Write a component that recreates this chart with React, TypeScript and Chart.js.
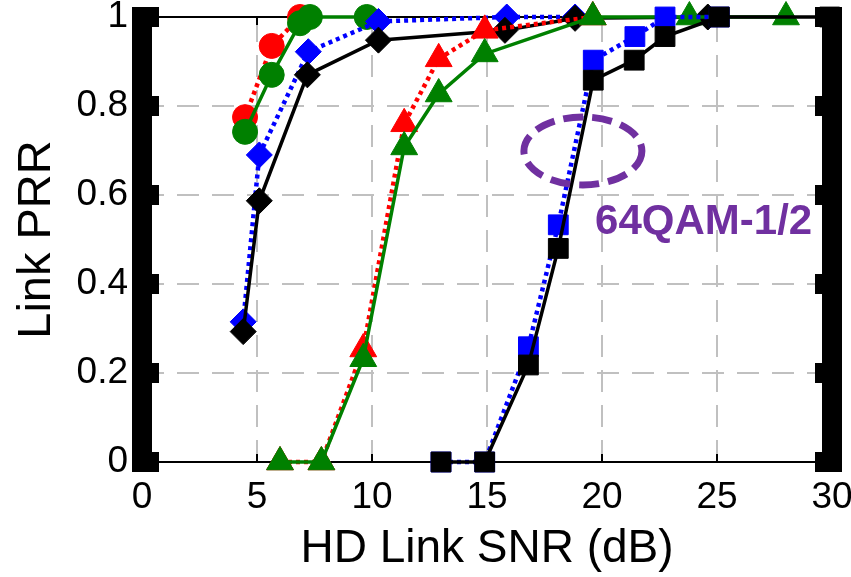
import { useEffect, useRef } from 'react';
import { Chart, registerables } from 'chart.js';

Chart.register(...registerables);

// ---- data ----
const xTicks = [0, 5, 10, 15, 20, 25, 30];
const yTicks = [0, 0.2, 0.4, 0.6, 0.8, 1];
const yTickLabels = ['0', '0.2', '0.4', '0.6', '0.8', '1'];

const redCircleX = [4.48, 5.64, 6.87];
const redCircleY = [0.775, 0.935, 1.0];

const greenCircleX = [4.48, 5.64, 6.87, 7.3, 9.77];
const greenCircleY = [0.742, 0.87, 0.986, 1.0, 1.0];

const blueDiamondX = [4.4, 5.1, 7.23, 10.28, 15.86, 18.83];
const blueDiamondY = [0.315, 0.69, 0.922, 0.99, 1.0, 1.0];

const blackDiamondX = [4.4, 5.1, 7.19, 10.28, 15.78, 18.83, 24.6];
const blackDiamondY = [0.293, 0.587, 0.87, 0.948, 0.97, 0.997, 1.0];

const redTriangleX = [6.0, 7.8, 9.62, 11.4, 12.9, 14.9, 19.6];
const redTriangleY = [0, 0, 0.254, 0.76, 0.906, 0.97, 1.0];

const greenTriangleX = [6.0, 7.8, 9.62, 11.4, 12.9, 14.9, 19.6, 23.8, 28.0];
const greenTriangleY = [0, 0, 0.232, 0.708, 0.827, 0.917, 1.0, 1.0, 1.0];

const blueSquareX = [13.0, 14.9, 16.8, 18.1, 19.62, 21.43, 22.74, 25.1];
const blueSquareY = [0, 0, 0.259, 0.533, 0.903, 0.956, 1.0, 1.0];

const blackSquareX = [13.0, 14.9, 16.8, 18.1, 19.62, 21.4, 22.74, 25.1, 29.9];
const blackSquareY = [0, 0, 0.218, 0.48, 0.858, 0.903, 0.956, 1.0, 1.0];

const annotationText = '64QAM-1/2';
const ellipseCenter = { x: 19.17, y: 0.699 };
const ellipseRadius = { x: 2.565, y: 0.0764 };
const annotationPos = { x: 19.7, y: 0.512 };

const FONT = "'Liberation Sans', Arial, Helvetica, sans-serif";
const PURPLE = '#7030A0';

const pts = (xs: number[], ys: number[]) => xs.map((x, i) => ({ x, y: ys[i] }));

const framePlugin = {
  id: 'framePlugin',
  beforeDatasetsDraw(chart: any) {
    const { ctx, chartArea: a, scales } = chart;
    const x = scales.x;
    const y = scales.y;
    ctx.save();
    // dashed grid
    ctx.strokeStyle = '#c0c0c0';
    ctx.lineWidth = 2;
    ctx.setLineDash([22, 13]);
    xTicks.slice(1, -1).forEach((v) => {
      const px = Math.round(x.getPixelForValue(v));
      ctx.beginPath();
      ctx.moveTo(px, a.bottom);
      ctx.lineTo(px, a.top);
      ctx.stroke();
    });
    yTicks.slice(1, -1).forEach((v) => {
      const py = Math.round(y.getPixelForValue(v));
      ctx.beginPath();
      ctx.moveTo(a.left, py);
      ctx.lineTo(a.right, py);
      ctx.stroke();
    });
    // frame lines
    ctx.setLineDash([]);
    ctx.strokeStyle = '#000';
    ctx.lineWidth = 2;
    ctx.beginPath();
    ctx.moveTo(a.left, a.top);
    ctx.lineTo(a.right, a.top);
    ctx.moveTo(a.left, a.bottom);
    ctx.lineTo(a.right, a.bottom);
    xTicks.slice(1, -1).forEach((v) => {
      const px = Math.round(x.getPixelForValue(v));
      ctx.moveTo(px, a.bottom);
      ctx.lineTo(px, a.bottom - 8);
      ctx.moveTo(px, a.top);
      ctx.lineTo(px, a.top + 8);
    });
    ctx.stroke();
    ctx.restore();
  },
  afterDatasetsDraw(chart: any) {
    const { ctx, chartArea: a, scales } = chart;
    const x = scales.x;
    const y = scales.y;
    ctx.save();
    // thick side bars with tick nubs
    ctx.fillStyle = '#000';
    const half = 10;
    ctx.fillRect(a.left - half, a.top - half, 2 * half, a.bottom - a.top + 2 * half);
    ctx.fillRect(a.right - half, a.top - half, 2 * half, a.bottom - a.top + 2 * half);
    yTicks.forEach((v) => {
      const py = y.getPixelForValue(v);
      ctx.fillRect(a.left + half, py - half, 7, 2 * half);
      ctx.fillRect(a.right - half - 7, py - half, 7, 2 * half);
    });
    // annotation ellipse
    const cx = x.getPixelForValue(ellipseCenter.x);
    const cy = y.getPixelForValue(ellipseCenter.y);
    const rx = x.getPixelForValue(ellipseCenter.x + ellipseRadius.x) - cx;
    const ry = cy - y.getPixelForValue(ellipseCenter.y + ellipseRadius.y);
    ctx.strokeStyle = PURPLE;
    ctx.lineWidth = 7;
    ctx.setLineDash([20, 9]);
    ctx.beginPath();
    ctx.ellipse(cx, cy, rx, ry, 0, 0, Math.PI * 2);
    ctx.stroke();
    ctx.setLineDash([]);
    // annotation text
    ctx.fillStyle = PURPLE;
    ctx.font = `bold 42px ${FONT}`;
    ctx.textAlign = 'left';
    ctx.textBaseline = 'alphabetic';
    ctx.fillText(annotationText, x.getPixelForValue(annotationPos.x), y.getPixelForValue(annotationPos.y));
    ctx.restore();
  },
};

function makeDs(
  xs: number[],
  ys: number[],
  color: string,
  style: string,
  radius: number,
  dotted: boolean,
  order: number
) {
  return {
    data: pts(xs, ys),
    borderColor: color,
    backgroundColor: color,
    pointBackgroundColor: color,
    pointBorderColor: color,
    pointBorderWidth: 1,
    pointStyle: style,
    pointRadius: radius,
    pointHoverRadius: radius,
    borderWidth: dotted ? 4.5 : 3.5,
    borderDash: dotted ? [4, 4] : [],
    borderCapStyle: 'butt',
    fill: false,
    tension: 0,
    clip: false,
    order,
  };
}

export default function App() {
  const ref = useRef<HTMLCanvasElement | null>(null);
  useEffect(() => {
    if (!ref.current) return;
    const chart = new Chart(ref.current, {
      type: 'line',
      data: {
        datasets: [
          makeDs(redCircleX, redCircleY, '#ff0000', 'circle', 12.5, true, 8),
          makeDs(greenCircleX, greenCircleY, '#008000', 'circle', 12.5, false, 7),
          makeDs(blueDiamondX, blueDiamondY, '#0000ff', 'rectRot', 13, true, 6),
          makeDs(blackDiamondX, blackDiamondY, '#000000', 'rectRot', 13, false, 5),
          makeDs(redTriangleX, redTriangleY, '#ff0000', 'triangle', 15.5, true, 4),
          makeDs(greenTriangleX, greenTriangleY, '#008000', 'triangle', 15.5, false, 3),
          makeDs(blueSquareX, blueSquareY, '#0000ff', 'rect', 14, true, 2),
          makeDs(blackSquareX, blackSquareY, '#000000', 'rect', 14, false, 1),
        ] as any,
      },
      options: {
        animation: false,
        responsive: false,
        events: [],
        layout: { padding: { left: 0, right: 19, top: 17, bottom: 0 } },
        plugins: { legend: { display: false }, tooltip: { enabled: false } },
        scales: {
          x: {
            type: 'linear',
            min: 0,
            max: 30,
            grid: { display: false, drawTicks: false },
            border: { display: false },
            afterBuildTicks: (s: any) => {
              s.ticks = xTicks.map((v) => ({ value: v }));
            },
            afterFit: (s: any) => {
              s.height = 115;
              s.paddingLeft = 0;
              s.paddingRight = 0;
            },
            ticks: {
              color: '#000',
              padding: 14,
              maxRotation: 0,
              autoSkip: false,
              callback: (v: any) => String(v),
              font: { family: FONT, size: 37 },
            },
            title: {
              display: true,
              text: 'HD Link SNR (dB)',
              color: '#000',
              padding: { top: 0, bottom: 0 },
              font: { family: FONT, size: 46 },
            },
          },
          y: {
            type: 'linear',
            min: 0,
            max: 1,
            grid: { display: false, drawTicks: false },
            border: { display: false },
            afterBuildTicks: (s: any) => {
              s.ticks = yTicks.map((v) => ({ value: v }));
            },
            afterFit: (s: any) => {
              s.width = 142;
              s.paddingTop = 0;
              s.paddingBottom = 0;
            },
            ticks: {
              color: '#000',
              padding: 14,
              autoSkip: false,
              callback: (_v: any, i: number) => yTickLabels[i],
              font: { family: FONT, size: 37 },
            },
            title: {
              display: true,
              text: 'Link PRR',
              color: '#000',
              padding: { top: 9, bottom: 0 },
              font: { family: FONT, size: 47 },
            },
          },
        },
      } as any,
      plugins: [framePlugin],
    });
    return () => chart.destroy();
  }, []);
  return (
    <div style={{ position: 'absolute', left: 0, top: 0, width: 851, height: 577, background: '#fff' }}>
      <canvas ref={ref} width={851} height={577} style={{ display: 'block' }} />
    </div>
  );
}
